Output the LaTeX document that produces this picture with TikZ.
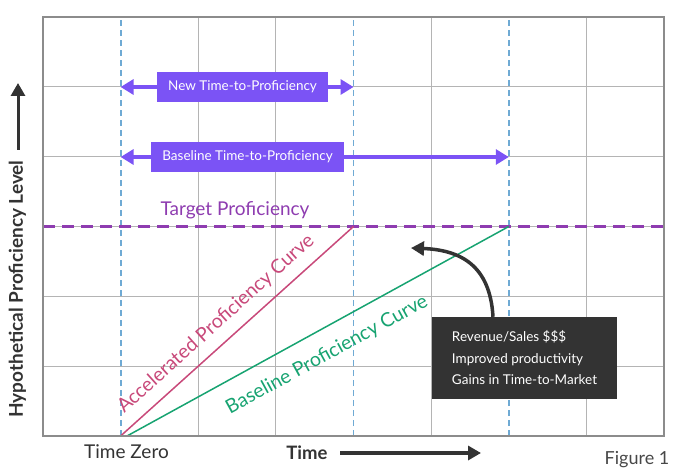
\documentclass[tikz,border=0pt]{standalone}
\usepackage{fontspec}
\setmainfont{Lato}
\usetikzlibrary{arrows.meta}

\definecolor{gridgray}{HTML}{B4B4B4}
\definecolor{framegray}{HTML}{8C8C8C}
\definecolor{markblue}{HTML}{6FAAD4}
\definecolor{targetpurple}{HTML}{8E3CB0}
\definecolor{spanpurple}{HTML}{7B53F5}
\definecolor{accpink}{HTML}{C8497A}
\definecolor{basegreen}{HTML}{17A371}
\definecolor{inkdark}{HTML}{333333}

\begin{document}
\begin{tikzpicture}[x=1pt, y=1pt,
  gridline/.style={gridgray, line width=0.9pt},
  markline/.style={markblue, dash pattern=on 6pt off 4pt, line width=1.8pt},
  spanarrow/.style={spanpurple, line width=4pt, {Triangle[length=13pt,width=15pt]}-{Triangle[length=13pt,width=15pt]}},
  spanbox/.style={fill=spanpurple, text=white, font=\fontsize{13.5}{16}\selectfont, minimum height=30pt, inner xsep=11pt},
  darkarrow/.style={inkdark, line width=3.5pt, -{Triangle[length=13pt,width=14pt]}},
  curvelabel/.style={font=\fontsize{19.5}{24}\selectfont}]

\useasboundingbox (0,0) rectangle (674,472);

% Grid
\foreach \i in {2,3,5,7}
  \draw[gridline] ({43+77.625*\i},36) -- ({43+77.625*\i},455);
\foreach \j in {1,...,5}
  \draw[gridline] (43,{36+69.83*\j}) -- (664,{36+69.83*\j});

% Time markers
\coordinate (origin) at (43,36);
\coordinate (zero) at (120.6,36);
\coordinate (slowstart) at (127,36);
\coordinate (fast) at (353.5,245.5);
\coordinate (slow) at (508.75,245.5);
\draw[markline] (zero) -- (120.6,455);
\draw[markline] (353.5,36) -- (353.5,455);
\draw[markline] (508.75,36) -- (508.75,455);

% Target Proficiency
\coordinate (targetL) at (43,245.5);
\coordinate (targetR) at (664,245.5);
\draw[targetpurple, dash pattern=on 12pt off 7pt, line width=2.2pt] (targetL) -- (targetR);
\node[targetpurple, font=\fontsize{19}{22}\selectfont] (target) at (235,262) {Target Proficiency};

% Time-to-Proficiency spans
\coordinate (newL) at (120.6,385);
\coordinate (newR) at (353.5,385);
\draw[spanarrow] (newL) -- (newR);
\node[spanbox] (newbox) at (242.5,385) {New Time-to-Proficiency};
\coordinate (baseL) at (120.6,315);
\coordinate (baseR) at (508.75,315);
\draw[spanarrow] (baseL) -- (baseR);
\node[spanbox] (basebox) at (247.5,315) {Baseline Time-to-Proficiency};

% Curves
\draw[accpink, line width=1.5pt] (zero) -- (fast);
\draw[basegreen, line width=1.5pt] (slowstart) -- (slow);
\draw[basegreen!70!black, line width=2pt] (origin) -- (slowstart);
\node[curvelabel, accpink, rotate=41.97] (acclabel) at (216,148) {Accelerated Proficiency Curve};
\node[curvelabel, basegreen, rotate=28.76] (baselabel) at (327,117) {Baseline Proficiency Curve};

% Frame
\draw[framegray, line width=2pt] (origin) rectangle (664,455);

% Gains
\node[fill=inkdark, text=white, minimum width=185pt, minimum height=82pt, align=left,
  font=\fontsize{13.5}{21.5}\selectfont] (gains) at (524.5,114)
  {Revenue/Sales \$\$\$\\Improved productivity\\Gains in Time-to-Market};
\coordinate (gainstip) at (411,224);
\draw[darkarrow] ([xshift=-31.5pt]gains.north) .. controls +(-3,52) and +(49,-2) .. (gainstip);

% Axes
\node[inkdark, rotate=90, font=\fontsize{19}{22}\selectfont\bfseries] (ylabel) at (17.5,183) {Hypothetical Proficiency Level};
\coordinate (yfoot) at (18,322);
\coordinate (ytip) at (18,389);
\draw[darkarrow, line width=3pt] (yfoot) -- (ytip);
\node[inkdark, font=\fontsize{19}{22}\selectfont] (zerolabel) at (126.5,20) {Time Zero};
\node[inkdark, font=\fontsize{18.5}{22}\selectfont\bfseries] (xlabel) at (307,19) {Time};
\coordinate (xfoot) at (340,19);
\coordinate (xtip) at (481,19);
\draw[darkarrow] (xfoot) -- (xtip);
\node[inkdark!90, font=\fontsize{18}{22}\selectfont] (figlabel) at (637,12) {Figure 1};

\end{tikzpicture}
\end{document}
